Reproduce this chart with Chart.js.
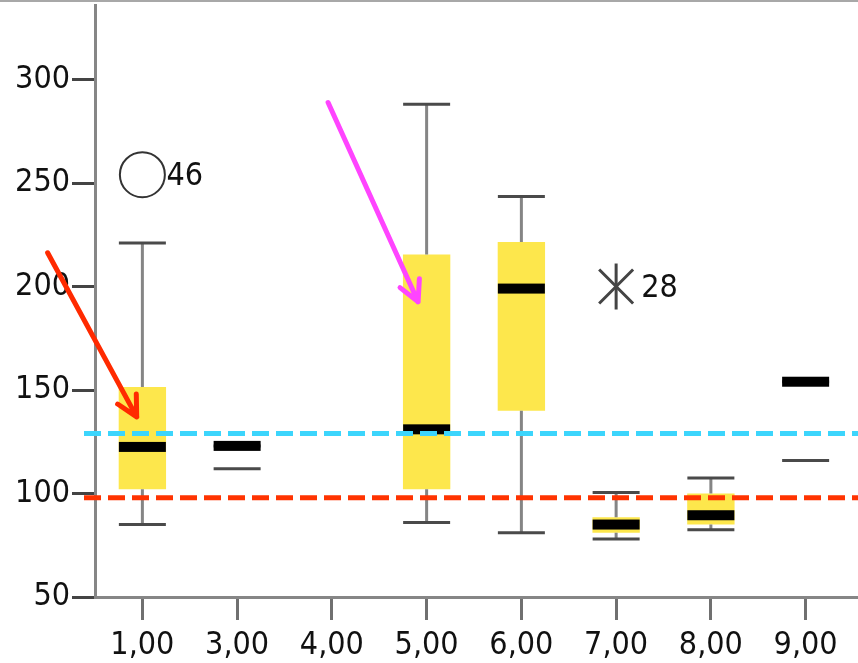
<!DOCTYPE html>
<html>
<head>
<meta charset="utf-8">
<script src="https://cdn.jsdelivr.net/npm/chart.js@4"></script>
<style>
    html, body { margin: 0; padding: 0; background: #fff; }
    canvas { display: block; }
</style>
</head>
<body>
<canvas id="boxChart" width="858" height="663"></canvas>
<script>
    const categories = ['1,00', '3,00', '4,00', '5,00', '6,00', '7,00', '8,00', '9,00'];
    const q1 = [102, 123, null, 102, 140, 81, 85, 154];
    const q3 = [151.5, 123, null, 215.5, 221.5, 88.5, 100, 154];
    const medians = [122.5, 123, null, 131, 199, 85, 89.5, 154];
    const whiskerLow = [85, 112, null, 86, 81, 78, 82.5, 116];
    const whiskerHigh = [221, 123, null, 288, 243.5, 100.5, 107.5, 154];

    const outlierCats = ['1,00'];
    const outlierValues = [254];
    const outlierIds = ['46'];
    const extremeCats = ['7,00'];
    const extremeValues = [200];
    const extremeIds = ['28'];

    const yTicks = [50, 100, 150, 200, 250, 300];
    const refLines = [129, 98];
    // arrows: [category index, value] start and tip
    const arrowFrom = [[-1.0, 216.3], [1.96, 288.9]];
    const arrowTo = [[-0.06, 137], [2.91, 192.6]];

    const FONT = { family: "'DejaVu Sans Condensed', 'Liberation Sans', sans-serif", size: 32 };

    const boxPlugin = {
        id: 'boxParts',
        afterDatasetsDraw(chart) {
            const { ctx, scales: { x, y }, chartArea } = chart;
            const half = 23.5;
            ctx.save();

            categories.forEach((cat, i) => {
                if (medians[i] === null) {
                    return;
                }
                const cx = x.getPixelForValue(i);
                const hasBox = q3[i] > q1[i];
                // stems
                if (hasBox) {
                    ctx.strokeStyle = '#858585';
                    ctx.lineWidth = 3;
                    ctx.beginPath();
                    ctx.moveTo(cx, y.getPixelForValue(q3[i]));
                    ctx.lineTo(cx, y.getPixelForValue(whiskerHigh[i]));
                    ctx.moveTo(cx, y.getPixelForValue(q1[i]));
                    ctx.lineTo(cx, y.getPixelForValue(whiskerLow[i]));
                    ctx.stroke();
                }
                // caps
                ctx.strokeStyle = '#4a4a4a';
                ctx.lineWidth = 3;
                ctx.beginPath();
                [whiskerLow[i], whiskerHigh[i]].forEach((v) => {
                    const py = y.getPixelForValue(v);
                    ctx.moveTo(cx - half, py);
                    ctx.lineTo(cx + half, py);
                });
                ctx.stroke();
                // median
                ctx.fillStyle = '#000';
                const my = y.getPixelForValue(medians[i]);
                ctx.fillRect(cx - half, my - 5, half * 2, 10);
            });

            // outlier labels
            ctx.fillStyle = '#111';
            ctx.font = `${FONT.size}px ${FONT.family}`;
            ctx.textAlign = 'left';
            ctx.textBaseline = 'middle';
            outlierCats.forEach((cat, i) => {
                ctx.fillText(outlierIds[i], x.getPixelForValue(categories.indexOf(cat)) + 24, y.getPixelForValue(outlierValues[i]) + 2);
            });
            extremeCats.forEach((cat, i) => {
                ctx.fillText(extremeIds[i], x.getPixelForValue(categories.indexOf(cat)) + 25, y.getPixelForValue(extremeValues[i]) + 2);
            });

            // reference lines
            const refColors = ['#3cd5fc', '#ff3300'];
            ctx.lineWidth = 5;
            ctx.setLineDash([17, 7]);
            refLines.forEach((v, i) => {
                const py = y.getPixelForValue(v);
                ctx.strokeStyle = refColors[i];
                ctx.beginPath();
                ctx.moveTo(chartArea.left - 11, py);
                ctx.lineTo(chart.width, py);
                ctx.stroke();
            });
            ctx.setLineDash([]);

            // arrows
            const arrowColors = ['#ff2a00', '#ff44ff'];
            arrowFrom.forEach((from, i) => {
                const x0 = x.getPixelForValue(from[0]);
                const y0 = y.getPixelForValue(from[1]);
                const x1 = x.getPixelForValue(arrowTo[i][0]);
                const y1 = y.getPixelForValue(arrowTo[i][1]);
                const ang = Math.atan2(y0 - y1, x0 - x1);
                ctx.strokeStyle = arrowColors[i];
                ctx.lineWidth = 5;
                ctx.lineCap = 'round';
                ctx.beginPath();
                ctx.moveTo(x0, y0);
                ctx.lineTo(x1, y1);
                [-0.48, 0.48].forEach((d) => {
                    ctx.moveTo(x1, y1);
                    ctx.lineTo(x1 + 23 * Math.cos(ang + d), y1 + 23 * Math.sin(ang + d));
                });
                ctx.stroke();
            });

            // frame bits
            ctx.fillStyle = '#a8a8a8';
            ctx.fillRect(0, 0, chart.width, 2);
            ctx.strokeStyle = '#868686';
            ctx.lineWidth = 3;
            ctx.lineCap = 'butt';
            ctx.beginPath();
            ctx.moveTo(chartArea.right, chartArea.bottom + 0.5);
            ctx.lineTo(chart.width, chartArea.bottom + 0.5);
            ctx.stroke();
            ctx.restore();
        },
    };

    new Chart(document.getElementById('boxChart'), {
        data: {
            labels: categories,
            datasets: [
                {
                    type: 'bar',
                    data: categories.map((c, i) => (q1[i] === null ? null : [q1[i], q3[i]])),
                    backgroundColor: '#fde74c',
                    borderWidth: 0,
                    barPercentage: 0.5,
                    categoryPercentage: 1.0,
                },
                {
                    type: 'line',
                    showLine: false,
                    data: outlierCats.map((c, i) => ({ x: c, y: outlierValues[i] })),
                    pointStyle: 'circle',
                    pointRadius: 22.5,
                    borderColor: '#333',
                    backgroundColor: 'rgba(0,0,0,0)',
                    pointBorderWidth: 2,
                    clip: false,
                },
                {
                    type: 'line',
                    showLine: false,
                    data: extremeCats.map((c, i) => ({ x: c, y: extremeValues[i] })),
                    pointStyle: 'crossRot',
                    pointRadius: 24,
                    borderColor: '#444',
                    pointBorderWidth: 3,
                    clip: false,
                },
                {
                    type: 'line',
                    showLine: false,
                    data: extremeCats.map((c, i) => ({ x: c, y: extremeValues[i] })),
                    pointStyle: 'line',
                    pointRotation: 90,
                    pointRadius: 23,
                    borderColor: '#444',
                    pointBorderWidth: 3,
                    clip: false,
                },
            ],
        },
        options: {
            responsive: false,
            animation: false,
            devicePixelRatio: 1,
            layout: { autoPadding: false, padding: { top: 5, right: 5, left: 0, bottom: 0 } },
            plugins: {
                legend: { display: false },
                tooltip: { enabled: false },
            },
            scales: {
                x: {
                    type: 'category',
                    offset: true,
                    grid: {
                        drawOnChartArea: false,
                        drawTicks: true,
                        tickLength: 23,
                        tickColor: '#707070',
                        tickWidth: 3,
                        offset: false,
                    },
                    border: { color: '#868686', width: 3 },
                    ticks: { font: FONT, color: '#111', padding: 6, maxRotation: 0 },
                    afterFit: (axis) => {
                        axis.height = 66;
                        axis.paddingLeft = 0;
                        axis.paddingRight = 0;
                    },
                },
                y: {
                    min: 50,
                    max: 336,
                    grid: {
                        drawOnChartArea: false,
                        drawTicks: true,
                        tickLength: 23,
                        tickColor: '#444',
                        tickWidth: 3,
                    },
                    border: { color: '#868686', width: 3 },
                    ticks: { font: FONT, color: '#111', padding: 2, stepSize: 50 },
                    afterBuildTicks: (axis) => {
                        axis.ticks = yTicks.map((v) => ({ value: v }));
                    },
                    afterFit: (axis) => {
                        axis.width = 95;
                        axis.paddingTop = 0;
                        axis.paddingBottom = 0;
                    },
                },
            },
        },
        plugins: [boxPlugin],
    });
</script>
</body>
</html>
